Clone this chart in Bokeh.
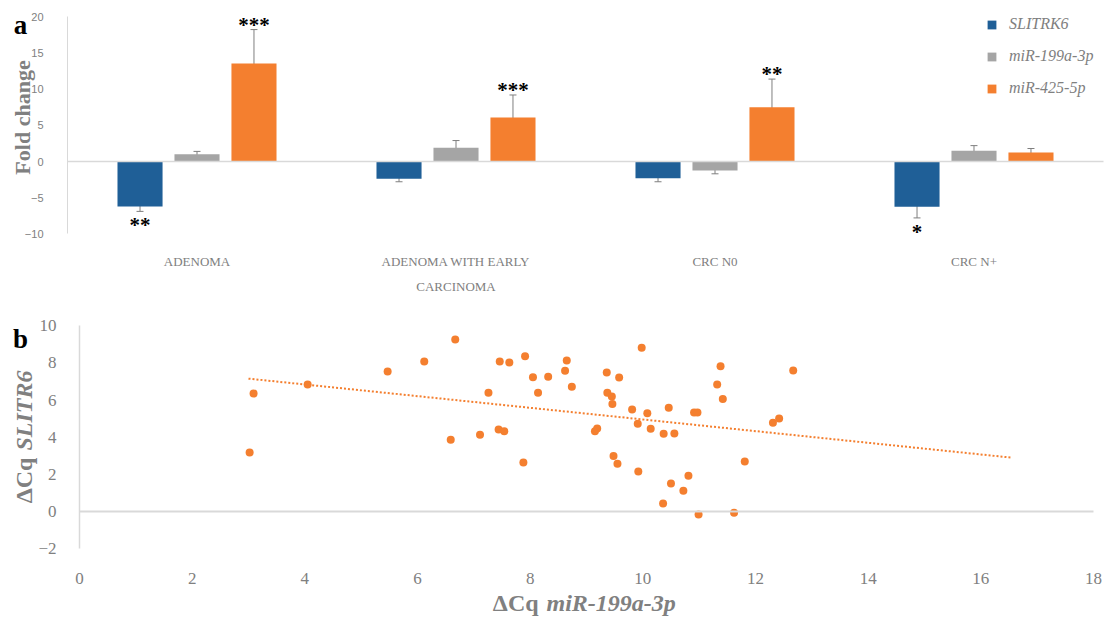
from bokeh.plotting import figure
from bokeh.models import (ColumnDataSource, Range1d, Whisker, TeeHead, Label, FixedTicker,
                          Legend, LinearAxis)
from bokeh.transform import dodge
from bokeh.core.properties import value
from bokeh.embed import file_html
from bokeh.resources import INLINE

# ---------------- data: panel a ----------------
categories = ["ADENOMA", "ADENOMA WITH EARLY\nCARCINOMA", "CRC N0", "CRC N+"]
series_names = ["SLITRK6", "miR-199a-3p", "miR-425-5p"]

slitrk6 = [-6.22, -2.4, -2.3, -6.25]
slitrk6_lo = [-6.9, -2.8, -2.8, -7.8]
slitrk6_hi = [-5.6, -1.9, -1.7, -4.2]
slitrk6_stars = ["**", "", "", "*"]

mir199 = [1.0, 1.9, -1.25, 1.5]
mir199_lo = [0.55, 1.4, -1.7, 0.8]
mir199_hi = [1.4, 2.9, -0.6, 2.2]
mir199_stars = ["", "", "", ""]

mir425 = [13.55, 6.1, 7.5, 1.25]
mir425_lo = [10.1, 4.2, 4.9, 0.8]
mir425_hi = [18.25, 9.2, 11.4, 1.8]
mir425_stars = ["***", "***", "**", ""]

fold_ticks = [-10, -5, 0, 5, 10, 15, 20]

# ---------------- data: panel b ----------------
dcq_mir199 = [3.02, 3.09, 4.05, 5.47, 6.12, 6.67, 6.59, 7.26, 7.11, 7.46, 7.63, 7.44, 7.54,
              7.91, 7.88, 8.05, 8.14, 8.32, 8.62, 8.65, 8.74, 9.15, 9.19, 9.36, 9.37, 9.45,
              9.46, 9.48, 9.55, 9.58, 9.81, 9.91, 9.92, 9.98, 10.08, 10.14, 10.36, 10.37,
              10.46, 10.50, 10.56, 10.72, 10.81, 10.91, 10.97, 10.99, 11.32, 11.38, 11.42,
              11.62, 11.81, 12.31, 12.42, 12.67]
dcq_slitr6 = [3.17, 6.35, 6.84, 7.53, 8.07, 9.26, 3.86, 6.39, 4.13, 8.07, 8.02, 4.41, 4.32,
              8.36, 2.64, 7.23, 6.39, 7.25, 7.57, 8.13, 6.71, 4.32, 4.47, 7.48, 6.39, 6.19,
              5.78, 2.98, 2.57, 7.21, 5.49, 4.72, 2.15, 8.81, 5.29, 4.45, 0.43, 4.18,
              5.58, 1.51, 4.20, 1.11, 1.92, 5.33, 5.33, -0.16, 6.84, 7.82, 6.06,
              -0.07, 2.69, 4.77, 5.00, 7.59]
trend_x = [3.0, 16.54]
trend_y = [7.15, 2.9]
x_ticks = [0, 2, 4, 6, 8, 10, 12, 14, 16, 18]
y_ticks = [-2, 0, 2, 4, 6, 8, 10]

BLUE = "#1F5F97"
GREY = "#A5A5A5"
ORANGE = "#F47F2F"
TXT = "#808080"
AXL = "#D9D9D9"

# category positions on a numeric scale (one unit per category)
cat_x = [i + 0.5 for i in range(len(categories))]
ncat = len(categories)

# one figure; the frame fills it, each panel uses its own ranges
p = figure(width=1116, height=621, x_range=Range1d(-0.2587, 4.0502),
           y_range=Range1d(-63.62, 22.27), x_axis_type=None, y_axis_type=None,
           output_backend="svg", toolbar_location=None,
           min_border_left=0, min_border_right=0, min_border_top=0, min_border_bottom=0)
p.extra_x_ranges = {"xb": Range1d(-1.4025, 18.409)}
p.extra_y_ranges = {"yb": Range1d(-5.92, 27.50)}
p.outline_line_color = None
p.grid.visible = False
p.background_fill_color = "white"
p.border_fill_color = "white"

# ================= panel a =================
zero_a = LinearAxis(fixed_location=0, bounds=(0, ncat), ticker=FixedTicker(ticks=[]),
                    axis_line_color=AXL, axis_line_width=1.5,
                    major_tick_line_color=None, minor_tick_line_color=None,
                    major_label_text_alpha=0)
p.add_layout(zero_a, "below")

series = [
    (slitrk6, slitrk6_lo, slitrk6_hi, slitrk6_stars, BLUE, -0.22, "below"),
    (mir199, mir199_lo, mir199_hi, mir199_stars, GREY, 0.0, "above"),
    (mir425, mir425_lo, mir425_hi, mir425_stars, ORANGE, 0.22, "above"),
]
items = []
for (vals, lo, hi, stars, col, off, where), name in zip(series, series_names):
    src = ColumnDataSource(dict(cx=cat_x, val=vals, lo=lo, hi=hi, stars=stars,
                                sy=(lo if where == "below" else hi)))
    r = p.vbar(x=dodge("cx", off), top="val", bottom=0, width=0.174,
               source=src, fill_color=col, line_color=None)
    items.append((name, [r]))
    w = Whisker(base=dodge("cx", off), upper="hi", lower="lo", source=src,
                line_color="#7F7F7F", line_width=1,
                upper_head=TeeHead(size=7, line_color="#7F7F7F", line_width=1),
                lower_head=TeeHead(size=7, line_color="#7F7F7F", line_width=1))
    p.add_layout(w)
    p.text(x=dodge("cx", off), y="sy", text="stars", source=src,
           text_font=value("Liberation Serif"), text_font_style="bold",
           text_font_size="21px", text_color="black", text_align="center",
           text_baseline="alphabetic", y_offset=(14 if where == "below" else -5))

ya = LinearAxis(fixed_location=0, bounds=(-10, 20), ticker=FixedTicker(ticks=fold_ticks))
ya.axis_line_color = AXL
ya.major_tick_line_color = None
ya.minor_tick_line_color = None
ya.major_label_standoff = 18
ya.major_label_text_font = "Liberation Sans"
ya.major_label_text_font_size = "11px"
ya.major_label_text_color = TXT
p.add_layout(ya, "left")

xa = LinearAxis(fixed_location=-10, ticker=FixedTicker(ticks=cat_x),
                major_label_overrides={x: c for x, c in zip(cat_x, categories)})
xa.axis_line_color = None
xa.major_tick_line_color = None
xa.minor_tick_line_color = None
xa.major_label_standoff = 14
xa.major_label_text_font = "Liberation Serif"
xa.major_label_text_font_size = "13px"
xa.major_label_text_color = TXT
xa.major_label_text_line_height = 1.65
p.add_layout(xa, "below")

leg = Legend(items=items, location=(986, 524))
leg.border_line_color = None
leg.background_fill_alpha = 0
leg.padding = 0
leg.margin = 0
leg.spacing = 14
leg.glyph_width = 11
leg.glyph_height = 11
leg.label_height = 11
leg.label_standoff = 12
leg.label_text_font = "Liberation Serif"
leg.label_text_font_style = "italic"
leg.label_text_font_size = "16px"
leg.label_text_color = TXT
p.add_layout(leg)

p.add_layout(Label(x=-0.1737, y=6.09, text="Fold change", angle=1.5708,
                   text_font="Liberation Serif", text_font_style="bold",
                   text_font_size="22px", text_color=TXT, text_align="center",
                   text_baseline="alphabetic"))
p.add_layout(Label(x=-0.181, y=18.95, text="a", text_font="Liberation Serif",
                   text_font_style="bold", text_font_size="27px", text_color="black",
                   text_align="center", text_baseline="alphabetic"))

# ================= panel b =================
rb = dict(x_range_name="xb", y_range_name="yb")

zero_b = LinearAxis(fixed_location=0, bounds=(0, 18), ticker=FixedTicker(ticks=[]),
                    axis_line_color=AXL, axis_line_width=2,
                    major_tick_line_color=None, minor_tick_line_color=None,
                    major_label_text_alpha=0, **rb)
p.add_layout(zero_b, "below")

p.line(trend_x, trend_y, line_color=ORANGE, line_width=2, line_dash="2 2", **rb)
p.scatter(dcq_mir199, dcq_slitr6, size=8, fill_color=ORANGE, line_color=None, **rb)

ya2 = LinearAxis(fixed_location=0, bounds=(-2, 10), ticker=FixedTicker(ticks=y_ticks), **rb)
ya2.axis_line_color = AXL
ya2.axis_line_width = 1.5
ya2.major_tick_line_color = None
ya2.minor_tick_line_color = None
ya2.major_label_standoff = 17
ya2.major_label_text_font = "Liberation Serif"
ya2.major_label_text_font_size = "17px"
ya2.major_label_text_color = TXT
p.add_layout(ya2, "left")

xa2 = LinearAxis(fixed_location=-2, ticker=FixedTicker(ticks=x_ticks), **rb)
xa2.axis_line_color = None
xa2.major_tick_line_color = None
xa2.minor_tick_line_color = None
xa2.major_label_standoff = 18
xa2.major_label_text_font = "Liberation Serif"
xa2.major_label_text_font_size = "17px"
xa2.major_label_text_color = TXT
p.add_layout(xa2, "below")

title_kw = dict(text_font="Liberation Serif", text_font_size="24px", text_color=TXT,
                text_baseline="alphabetic", **rb)
p.add_layout(Label(x=8.15, y=-4.90, text="ΔCq", text_font_style="bold",
                   text_align="right", **title_kw))
p.add_layout(Label(x=8.29, y=-4.90, text="miR-199a-3p", text_font_style="bold italic",
                   text_align="left", **title_kw))
p.add_layout(Label(x=-0.994, y=2.9, text="ΔCq", text_font_style="bold", angle=1.5708,
                   text_align="right", **title_kw))
p.add_layout(Label(x=-0.994, y=3.28, text="SLITR6", text_font_style="bold italic",
                   angle=1.5708, text_align="left", **title_kw))
p.add_layout(Label(x=-1.047, y=9.26, text="b", text_font="Liberation Serif",
                   text_font_style="bold", text_font_size="27px", text_color="black",
                   text_align="center", text_baseline="alphabetic", **rb))

open("out.html", "w").write(file_html(p, INLINE))
